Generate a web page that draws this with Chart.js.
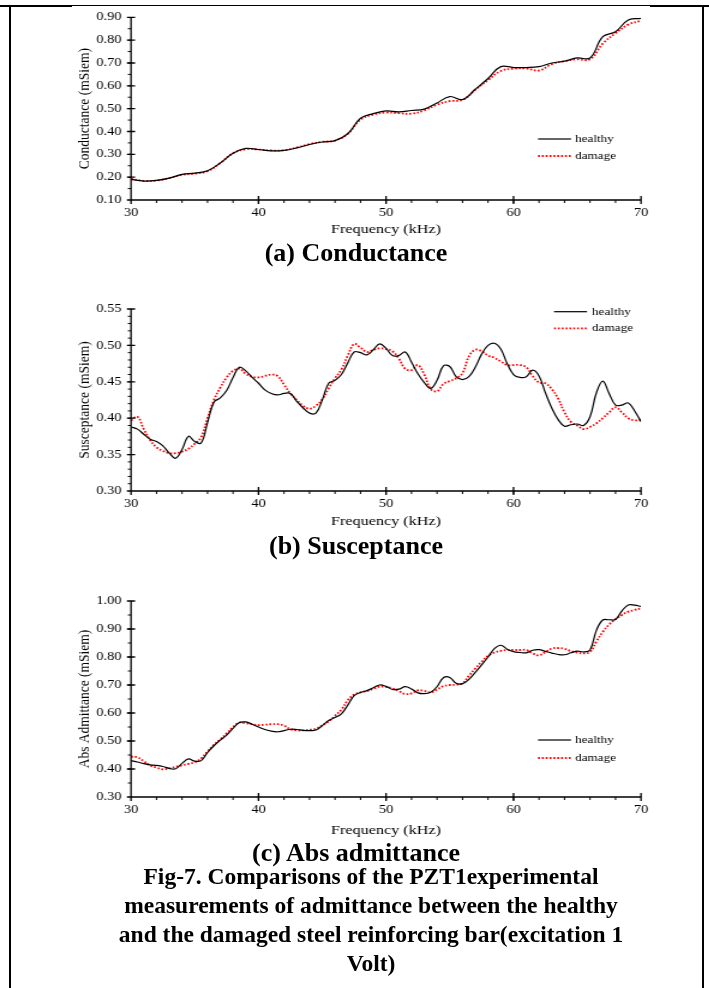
<!DOCTYPE html>
<html>
<head>
<meta charset="utf-8">
<script src="https://cdn.jsdelivr.net/npm/chart.js@4/dist/chart.umd.min.js"></script>
<style>
  html, body { margin: 0; padding: 0; background: #fff; }
  body { width: 709px; height: 988px; position: relative; overflow: hidden;
         font-family: "Liberation Serif", "Times New Roman", serif; color: #000; }
  .rule { position: absolute; background: #000; }
  .panel { position: absolute; left: 0; transform: scaleX(1.2); transform-origin: 0 0; }
  .panel canvas { display: block; }
  .cap { position: absolute; left: 106px; width: 500px; font-weight: bold; font-size: 26px;
         line-height: 30px; text-align: center; white-space: nowrap; }
  .fig { position: absolute; left: 71px; width: 600px; font-weight: bold; font-size: 23.5px;
         line-height: 29px; text-align: center; white-space: nowrap; }
</style>
</head>
<body>
<div class="rule" style="left:0;top:5px;width:72px;height:2px"></div>
<div class="rule" style="left:72px;top:5px;width:578px;height:1px"></div>
<div class="rule" style="left:650px;top:5px;width:59px;height:2px"></div>
<div class="rule" style="left:9px;top:5px;width:2px;height:983px"></div>
<div class="rule" style="left:702px;top:5px;width:2px;height:983px"></div>

<div class="panel" style="top:0"><canvas id="chartG" width="591" height="240"></canvas></div>
<div class="cap" style="top:238px">(a) Conductance</div>

<div class="panel" style="top:270px"><canvas id="chartB" width="591" height="262"></canvas></div>
<div class="cap" style="top:531px">(b) Susceptance</div>

<div class="panel" style="top:560px"><canvas id="chartY" width="591" height="282"></canvas></div>
<div class="cap" style="top:838px">(c) Abs admittance</div>

<div class="fig" style="top:862px">Fig-7. Comparisons of the PZT1experimental<br>measurements of admittance between the healthy<br>and the damaged steel reinforcing bar(excitation 1<br>Volt)</div>

<script>
// frequency (kHz)
const freqA = [30,31,32,33,34,35,36,37,38,39,40,41,42,43,44,45,46,47,48,49,50,
  51,52,53,54,55,56,57,58,59,60,61,62,63,64,65,66,67,68,69,70];
const freqBC = [30,30.5,31,31.5,32,32.5,33,33.5,34,34.5,35,35.5,36,36.5,37,37.5,38,38.5,39,39.5,
  40,40.5,41,41.5,42,42.5,43,43.5,44,44.5,45,45.5,46,46.5,47,47.5,48,48.5,49,49.5,
  50,50.5,51,51.5,52,52.5,53,53.5,54,54.5,55,55.5,56,56.5,57,57.5,58,58.5,59,59.5,
  60,60.5,61,61.5,62,62.5,63,63.5,64,64.5,65,65.5,66,66.5,67,67.5,68,68.5,69,69.5,70];

// (a) conductance, mSiem
const healthyG = [0.190,0.183,0.186,0.196,0.212,0.218,0.228,0.262,0.305,0.326,
  0.321,0.315,0.317,0.328,0.343,0.354,0.360,0.390,0.458,0.478,
  0.490,0.486,0.492,0.498,0.525,0.553,0.540,0.585,0.632,0.684,
  0.680,0.680,0.684,0.700,0.708,0.722,0.722,0.815,0.837,0.888,0.895];
const damageG = [0.192,0.184,0.185,0.196,0.210,0.215,0.226,0.262,0.305,0.322,
  0.321,0.317,0.318,0.330,0.345,0.355,0.360,0.390,0.452,0.474,
  0.483,0.480,0.478,0.492,0.517,0.533,0.538,0.582,0.625,0.665,
  0.675,0.676,0.667,0.695,0.708,0.716,0.716,0.785,0.830,0.868,0.885];

// (b) susceptance, mSiem
const healthyB = [0.388,0.385,0.378,0.371,0.368,0.362,0.352,0.345,0.357,0.375,
  0.368,0.366,0.394,0.422,0.428,0.438,0.456,0.470,0.465,0.456,
  0.448,0.439,0.434,0.432,0.434,0.434,0.423,0.414,0.407,0.407,
  0.425,0.448,0.452,0.460,0.476,0.491,0.490,0.487,0.494,0.502,
  0.496,0.486,0.486,0.491,0.477,0.461,0.449,0.441,0.452,0.472,
  0.471,0.457,0.453,0.457,0.470,0.488,0.500,0.503,0.495,0.475,
  0.460,0.456,0.457,0.466,0.458,0.435,0.414,0.398,0.389,0.391,
  0.392,0.390,0.402,0.435,0.451,0.434,0.418,0.418,0.421,0.410,0.395];
const damageB = [0.397,0.402,0.385,0.370,0.360,0.355,0.352,0.352,0.354,0.358,
  0.365,0.374,0.400,0.425,0.442,0.456,0.465,0.468,0.461,0.457,
  0.456,0.458,0.460,0.458,0.446,0.434,0.425,0.417,0.413,0.417,
  0.426,0.441,0.455,0.467,0.486,0.502,0.497,0.491,0.494,0.496,
  0.495,0.492,0.482,0.468,0.466,0.473,0.460,0.440,0.437,0.447,
  0.451,0.455,0.462,0.485,0.494,0.492,0.486,0.483,0.478,0.473,
  0.473,0.473,0.470,0.458,0.449,0.448,0.440,0.427,0.408,0.395,
  0.390,0.385,0.388,0.393,0.400,0.408,0.415,0.408,0.400,0.397,0.398];

// (c) abs admittance, mSiem
const healthyY = [0.430,0.425,0.419,0.415,0.413,0.409,0.402,0.401,0.420,0.436,
  0.428,0.430,0.459,0.483,0.503,0.521,0.545,0.566,0.568,0.560,
  0.550,0.541,0.535,0.533,0.537,0.542,0.541,0.538,0.537,0.539,
  0.555,0.573,0.584,0.597,0.628,0.662,0.673,0.680,0.690,0.700,
  0.695,0.684,0.685,0.694,0.686,0.672,0.669,0.674,0.694,0.726,
  0.727,0.706,0.705,0.720,0.745,0.772,0.800,0.830,0.842,0.828,
  0.819,0.816,0.815,0.824,0.826,0.820,0.814,0.809,0.808,0.815,
  0.821,0.818,0.825,0.895,0.932,0.933,0.934,0.965,0.986,0.985,0.980];
const damageY = [0.444,0.442,0.428,0.413,0.405,0.399,0.402,0.408,0.413,0.418,
  0.424,0.438,0.462,0.486,0.506,0.527,0.550,0.566,0.563,0.560,
  0.557,0.558,0.560,0.560,0.555,0.542,0.538,0.538,0.540,0.544,
  0.556,0.570,0.590,0.612,0.646,0.666,0.674,0.678,0.686,0.694,
  0.693,0.688,0.678,0.668,0.670,0.681,0.679,0.674,0.684,0.696,
  0.700,0.701,0.706,0.733,0.759,0.783,0.804,0.816,0.822,0.825,
  0.825,0.825,0.825,0.813,0.806,0.818,0.830,0.832,0.829,0.821,
  0.816,0.813,0.818,0.855,0.890,0.916,0.935,0.950,0.962,0.968,0.974];

// the source figure is stretched sideways, so canvases are drawn narrow and scaled by S
const S = 1.2;
const CW = 591;
const AREA_L = 131 / S, AREA_R = 641 / S, PAD_L = 58;

Chart.defaults.font.family = "'Liberation Serif', 'Times New Roman', serif";
Chart.defaults.color = '#000';

// axis lines, crossing major ticks and outside minor ticks
const axisMarks = {
  id: 'axisMarks',
  afterDraw(chart, args, o) {
    const { ctx, chartArea: a, scales: { x, y } } = chart;
    ctx.save();
    ctx.strokeStyle = '#000';
    ctx.lineWidth = 1.3;
    ctx.beginPath();
    ctx.moveTo(a.left, a.top);
    ctx.lineTo(a.left, a.bottom);
    ctx.lineTo(a.right, a.bottom);
    y.ticks.forEach(t => {
      const p = y.getPixelForValue(t.value);
      ctx.moveTo(a.left - 3.4, p); ctx.lineTo(a.left + 3.4, p);
    });
    x.ticks.forEach(t => {
      const p = x.getPixelForValue(t.value);
      ctx.moveTo(p, a.bottom - 4); ctx.lineTo(p, a.bottom + 4);
    });
    ctx.stroke();
    ctx.lineWidth = 1;
    ctx.beginPath();
    const ny = Math.round((y.max - y.min) / o.yMinor);
    for (let i = 1; i < ny; i++) {
      const p = y.getPixelForValue(y.min + i * o.yMinor);
      ctx.moveTo(a.left - 2.6, p); ctx.lineTo(a.left, p);
    }
    const nx = Math.round((x.max - x.min) / o.xMinor);
    for (let i = 1; i < nx; i++) {
      const p = x.getPixelForValue(x.min + i * o.xMinor);
      ctx.moveTo(p, a.bottom); ctx.lineTo(p, a.bottom + 3);
    }
    ctx.stroke();
    ctx.restore();
  }
};

// little legend inside the plot
const lineKey = {
  id: 'lineKey',
  afterDraw(chart, args, o) {
    const { ctx } = chart;
    ctx.save();
    chart.data.datasets.forEach((ds, i) => {
      const yy = o.ys[i];
      ctx.strokeStyle = ds.borderColor;
      ctx.lineWidth = ds.borderWidth;
      ctx.setLineDash(ds.borderDash || []);
      ctx.beginPath();
      ctx.moveTo(o.x0, yy); ctx.lineTo(o.x1, yy);
      ctx.stroke();
      ctx.setLineDash([]);
      ctx.fillStyle = '#000';
      ctx.font = "11px 'Liberation Serif'";
      ctx.textBaseline = 'middle';
      ctx.fillText(ds.label, o.xt, yy);
    });
    ctx.restore();
  }
};

function makeChart(id, o) {
  return new Chart(document.getElementById(id), {
    type: 'line',
    data: {
      datasets: [
        { label: 'healthy', data: o.freq.map((f, i) => ({ x: f, y: o.healthy[i] })),
          borderColor: '#000', borderWidth: 1.2, pointRadius: 0, tension: 0.4, fill: false },
        { label: 'damage', data: o.freq.map((f, i) => ({ x: f, y: o.damage[i] })),
          borderColor: '#ff0000', borderWidth: 1.8, borderDash: [1.6, 1.6], pointRadius: 0, tension: 0.4, fill: false },
      ],
    },
    options: {
      responsive: false, animation: false, devicePixelRatio: 1,
      layout: { padding: { left: PAD_L, right: CW - AREA_R, top: o.padTop, bottom: 0 } },
      plugins: {
        legend: { display: false },
        tooltip: { enabled: false },
        axisMarks: { yMinor: o.yMinor, xMinor: 2 },
        lineKey: { x0: o.key[0], x1: o.key[1], xt: o.key[2], ys: o.keyY },
      },
      scales: {
        x: {
          type: 'linear', min: 30, max: 70,
          ticks: { stepSize: 10, padding: 6, font: { size: 12 }, maxRotation: 0 },
          grid: { display: false, drawTicks: false }, border: { display: false },
          title: { display: true, text: 'Frequency (kHz)', font: { size: 13.5 }, padding: { top: 0, bottom: o.xTitlePad } },
          afterFit: s => { s.height = o.xHeight; },
        },
        y: {
          min: o.yMin, max: o.yMax,
          ticks: { stepSize: o.yStep, padding: 8, font: { size: 12 }, callback: v => Number(v).toFixed(2) },
          grid: { display: false, drawTicks: false }, border: { display: false },
          title: { display: true, text: o.yTitle, font: { size: 13.5 }, padding: { top: 4, bottom: 0 } },
          afterFit: s => { s.width = AREA_L - PAD_L; },
        },
      },
    },
    plugins: [axisMarks, lineKey],
  });
}

makeChart('chartG', {
  freq: freqA, healthy: healthyG, damage: damageG,
  yMin: 0.1, yMax: 0.9, yStep: 0.1, yMinor: 0.05, yTitle: 'Conductance (mSiem)',
  padTop: 17.3, xHeight: 40, xTitlePad: 2.9,
  key: [538 / S, 571 / S, 575 / S], keyY: [139, 156],
});
makeChart('chartB', {
  freq: freqBC, healthy: healthyB, damage: damageB,
  yMin: 0.3, yMax: 0.55, yStep: 0.05, yMinor: 0.01, yTitle: 'Susceptance (mSiem)',
  padTop: 39, xHeight: 41, xTitlePad: 2.9,
  key: [554 / S, 587 / S, 592 / S], keyY: [41.7, 58.3],
});
makeChart('chartY', {
  freq: freqBC, healthy: healthyY, damage: damageY,
  yMin: 0.3, yMax: 1.0, yStep: 0.1, yMinor: 0.05, yTitle: 'Abs Admittance (mSiem)',
  padTop: 41, xHeight: 45, xTitlePad: 3.9,
  key: [538 / S, 571 / S, 575 / S], keyY: [180, 198],
});
</script>
</body>
</html>
